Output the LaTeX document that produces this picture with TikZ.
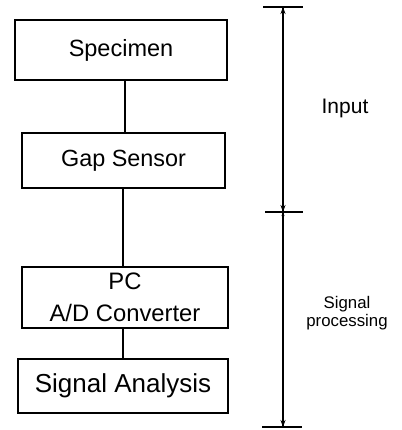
\documentclass[tikz,border=0pt]{standalone}
\usepackage{fontspec}
\setmainfont{Liberation Sans}
\usetikzlibrary{arrows.meta}
\begin{document}
\begin{tikzpicture}[x=1pt,y=-1pt,
  block/.style={draw, line width=1.3pt, inner sep=0pt, align=center},
  link/.style={line width=1.2pt},
  dimline/.style={line width=1.2pt},
  tick/.style={line width=1.2pt},
  tip/.style={-{Stealth[length=7pt,width=5pt]}}]
\useasboundingbox (0,0) rectangle (401,430);

% process blocks
\node[block, minimum width=212pt, minimum height=60pt, font=\fontsize{23.5}{27}\selectfont]
  (spec) at (121,50) {Specimen};
\node[block, minimum width=203pt, minimum height=55pt, font=\fontsize{23.4}{27}\selectfont]
  (gap) at (123.5,160.5) {Gap Sensor};
\node[block, minimum width=206pt, minimum height=61pt, font=\fontsize{23.8}{32}\selectfont]
  (pc) at (125,297.5) {PC\\A/D Converter};
\node[block, minimum width=210pt, minimum height=54pt, font=\fontsize{26}{30}\selectfont]
  (sa) at (123,386) {Signal Analysis};

% links between blocks
\draw[link] (spec.south -| 125,0) -- (gap.north -| 125,0);
\draw[link] (gap.south -| 123,0) -- (pc.north -| 123,0);
\draw[link] (pc.south -| 123,0) -- (sa.north -| 123,0);

% stage extents on the right
\coordinate (top) at (283,7);
\coordinate (mid) at (283,212);
\coordinate (bot) at (283,427);
\draw[tick] (263,7) -- (303,7);
\draw[tick] (265,212) -- (303,212);
\draw[tick] (262,427) -- (302,427);
\draw[dimline, tip] (mid) -- (top);
\draw[dimline, tip] (top) -- (mid);
\draw[dimline, -{Stealth[length=4pt,width=3pt]}] (bot) -- (mid);
\draw[dimline, tip] (mid) -- (bot);

% stage labels
\node[font=\fontsize{21}{24}\selectfont] (input) at (345,108) {Input};
\node[font=\fontsize{16.8}{18}\selectfont, align=center] (proc) at (347,313) {Signal\\processing};
\end{tikzpicture}
\end{document}
